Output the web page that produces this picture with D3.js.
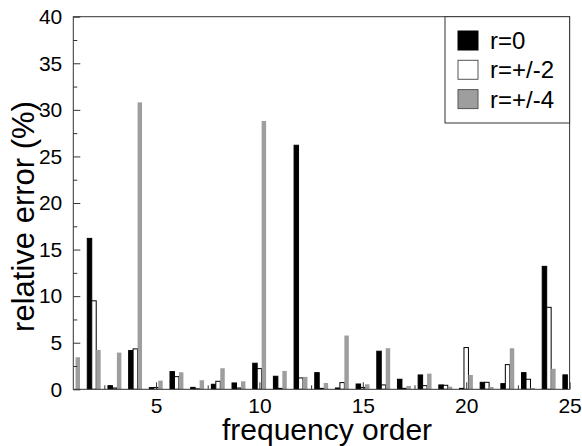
<!DOCTYPE html>
<html>
<head>
<meta charset="utf-8">
<script src="https://cdn.jsdelivr.net/npm/d3@7"></script>
<style>
  body { margin: 0; background: #fff; }
  text { font-family: "Liberation Sans", Arial, sans-serif; fill: #000; }
</style>
</head>
<body>
<svg id="svg" width="582" height="446"></svg>
<script>
// frequency order 1..25
var orders = [1,2,3,4,5,6,7,8,9,10,11,12,13,14,15,16,17,18,19,20,21,22,23,24,25];
var seriesNames = ["r=0", "r=+/-2", "r=+/-4"];
var r0 = [0, 16.2, 0.39, 4.16, 0.18, 1.9, 0.21, 0.54, 0.68, 2.8, 1.4, 26.2, 1.79, 0.14, 0.57, 4.09, 1.08, 1.54, 0.47, 0.1, 0.75, 0.61, 1.79, 13.2, 1.55];
var r2 = [0, 9.5, 0.14, 4.34, 0.2, 1.36, 0.05, 0.86, 0.14, 2.22, 0.1, 1.22, 0.1, 0.72, 0.2, 0.47, 0.1, 0.39, 0.43, 4.48, 0.75, 2.65, 1.08, 8.8, 0];
var r4 = [3.44, 4.23, 3.94, 30.8, 0.93, 1.83, 0.97, 2.26, 0.86, 28.8, 1.97, 1.33, 0.68, 5.77, 0.54, 4.41, 0.36, 1.68, 0.29, 1.54, 0.25, 4.41, 0.14, 2.2, 0];
var xTicks = [5, 10, 15, 20, 25];
var yTicks = [0, 5, 10, 15, 20, 25, 30, 35, 40];

var fills = ["#000000", "#ffffff", "#9e9e9e"];
var strokes = ["#000000", "#000000", "none"];

var plotLeft = 73.3, plotRight = 569.6, plotTop = 16.7, plotBottom = 389.3;

var svg = d3.select("#svg");

var x = d3.scaleLinear().domain([1, 25]).range([plotLeft, plotRight]);
var y = d3.scaleLinear().domain([0, 40]).range([plotBottom, plotTop]);
var offset = d3.scaleBand().domain(seriesNames).range([-6.7, 6.7]);

svg.append("clipPath").attr("id", "plotclip")
  .append("rect")
  .attr("x", plotLeft).attr("y", plotTop)
  .attr("width", plotRight - plotLeft).attr("height", plotBottom - plotTop);

var table = [];
orders.forEach(function(o, i){
  [r0, r2, r4].forEach(function(vals, s){
    table.push({order: o, s: s, value: vals[i]});
  });
});

svg.append("g").attr("clip-path", "url(#plotclip)")
  .selectAll("rect").data(table).enter()
  .append("rect")
  .attr("x", function(d){ return x(d.order) + offset(seriesNames[d.s]); })
  .attr("y", function(d){ return y(d.value); })
  .attr("width", offset.bandwidth())
  .attr("height", function(d){ return plotBottom - y(d.value); })
  .attr("fill", function(d){ return fills[d.s]; })
  .attr("stroke", function(d){ return strokes[d.s]; })
  .attr("stroke-width", 1);

// frame
svg.append("rect")
  .attr("x", plotLeft).attr("y", plotTop)
  .attr("width", plotRight - plotLeft).attr("height", plotBottom - plotTop)
  .attr("fill", "none").attr("stroke", "#333").attr("stroke-width", 1);

// y axis, ticks inside
var yAxis = svg.append("g").attr("transform", "translate(" + plotLeft + ",0)")
  .call(d3.axisLeft(y).tickValues(yTicks).tickSize(-7).tickPadding(11));
var yMinor = svg.append("g").attr("transform", "translate(" + plotLeft + ",0)")
  .call(d3.axisLeft(y).tickValues(d3.range(2.5, 40, 5)).tickSize(-4).tickFormat(""));

var xAxis = svg.append("g").attr("transform", "translate(0," + plotBottom + ")")
  .call(d3.axisBottom(x).tickValues(xTicks).tickSize(-7).tickPadding(9));
var xMinor = svg.append("g").attr("transform", "translate(0," + plotBottom + ")")
  .call(d3.axisBottom(x).tickValues(d3.range(2.5, 25, 5)).tickSize(-4).tickFormat(""));

[yAxis, yMinor, xAxis, xMinor].forEach(function(a){
  a.select(".domain").remove();
  a.selectAll("line").attr("stroke", "#333");
  a.selectAll("text").style("font-size", "21px").attr("font-family", null);
});

svg.append("text")
  .attr("transform", "translate(34,216.5) rotate(-90)")
  .attr("text-anchor", "middle")
  .style("font-size", "31px")
  .text("relative error (%)");

svg.append("text")
  .attr("x", 327).attr("y", 440)
  .attr("text-anchor", "middle")
  .style("font-size", "30px")
  .text("frequency order");

// legend
var legend = svg.append("g");
legend.append("rect")
  .attr("x", 445).attr("y", plotTop)
  .attr("width", plotRight - 445).attr("height", 123 - plotTop)
  .attr("fill", "#fff").attr("stroke", "#333");

var items = legend.selectAll(".item").data(seriesNames).enter()
  .append("g").classed("item", true)
  .attr("transform", function(d, i){ return "translate(458," + (31 + i * 29.3) + ")"; });
items.append("rect")
  .attr("width", 20).attr("height", 19)
  .attr("fill", function(d, i){ return fills[i]; })
  .attr("stroke", function(d, i){ return i === 0 ? "#000" : "#555"; });
items.append("text")
  .attr("x", 32).attr("y", 18)
  .style("font-size", "24px")
  .text(function(d){ return d; });
</script>
</body>
</html>
